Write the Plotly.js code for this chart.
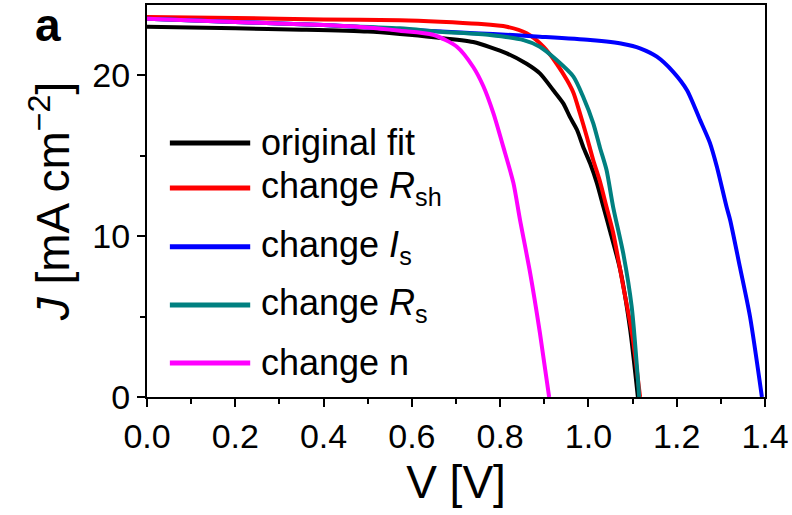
<!DOCTYPE html>
<html>
<head>
<meta charset="utf-8">
<script src="https://cdn.plot.ly/plotly-3.0.1.min.js"></script>
<style>html,body{margin:0;padding:0;background:#fff;}#chart{width:792px;height:515px;}</style>
</head>
<body>
<div id="chart"></div>
<script>
// ---- data ----
var seriesNames = ["original fit", "change <i>R</i><sub>sh</sub>", "change <i>I</i><sub>s</sub>", "change <i>R</i><sub>s</sub>", "change n"];
var seriesColors = ["#000000", "#ff0000", "#0000ff", "#008080", "#ff00ff"];

var vOriginal = [0, 0.2, 0.35, 0.5, 0.573, 0.65, 0.739, 0.815, 0.860, 0.890, 0.920, 0.943, 0.958, 0.974, 0.988, 1.004, 1.019, 1.034, 1.049, 1.072, 1.094, 1.112];
var jOriginal = [23.0, 22.9, 22.82, 22.7, 22.55, 22.35, 22.05, 21.35, 20.7, 20.1, 19.07, 18.24, 17.4, 16.6, 15.55, 14.5, 13.3, 11.8, 10.3, 7.9, 4.3, 0];

var vRsh = [0, 0.2, 0.4, 0.573, 0.664, 0.75, 0.815, 0.860, 0.898, 0.928, 0.951, 0.966, 0.981, 0.996, 1.011, 1.026, 1.041, 1.056, 1.078, 1.099, 1.117];
var jRsh = [23.6, 23.55, 23.45, 23.4, 23.31, 23.18, 23.0, 22.59, 21.76, 20.7, 19.7, 18.9, 17.6, 16.2, 14.7, 13.4, 11.8, 10.2, 7.0, 3.9, 0];

var vIs = [0, 0.2, 0.4, 0.573, 0.7, 0.784, 0.890, 1.004, 1.079, 1.117, 1.155, 1.192, 1.223, 1.253, 1.275, 1.291, 1.313, 1.321, 1.343, 1.366, 1.393];
var jIs = [23.5, 23.3, 23.1, 22.85, 22.65, 22.55, 22.38, 22.17, 21.93, 21.66, 21.14, 20.2, 19.07, 17.2, 15.8, 14.3, 11.8, 11.0, 8.1, 5.0, 0];

var vRs = [0, 0.2, 0.4, 0.573, 0.664, 0.777, 0.853, 0.890, 0.928, 0.966, 0.988, 1.011, 1.026, 1.041, 1.056, 1.079, 1.098, 1.115];
var jRs = [23.5, 23.3, 23.1, 22.9, 22.69, 22.48, 22.17, 21.76, 20.93, 19.9, 18.65, 17.0, 15.5, 14.1, 11.8, 8.9, 5.6, 0];

var vN = [0, 0.2, 0.4, 0.5, 0.573, 0.648, 0.702, 0.739, 0.762, 0.785, 0.807, 0.830, 0.845, 0.868, 0.890, 0.911];
var jN = [23.5, 23.3, 23.1, 22.95, 22.75, 22.5, 21.76, 20.5, 19.3, 17.6, 15.55, 13.3, 11.0, 7.7, 4.0, 0];

var xTickVals = [0, 0.2, 0.4, 0.6, 0.8, 1.0, 1.2, 1.4];
var xTickText = ["0.0", "0.2", "0.4", "0.6", "0.8", "1.0", "1.2", "1.4"];
var yTickVals = [0, 10, 20];
var yTickText = ["0", "10", "20"];

var vSeries = [vOriginal, vRsh, vIs, vRs, vN];
var jSeries = [jOriginal, jRsh, jIs, jRs, jN];

// ---- figure ----
var FONT = "Liberation Sans, Arial, sans-serif";
var traces = vSeries.map(function (v, i) {
  return {
    x: v, y: jSeries[i], type: "scatter", mode: "lines",
    name: seriesNames[i],
    line: {color: seriesColors[i], width: 4, shape: "spline", smoothing: 0.7},
    showlegend: false
  };
});

// hand-placed legend (long sample lines, uneven row gaps as in the reference)
var legendRowsY = [0.648, 0.533, 0.383, 0.235, 0.087];
var shapes = [];
var annotations = [];
legendRowsY.forEach(function (yy, i) {
  shapes.push({type: "line", xref: "paper", yref: "paper", x0: 0.037, x1: 0.167, y0: yy, y1: yy,
    line: {color: seriesColors[i], width: 5}});
  annotations.push({xref: "paper", yref: "paper", x: 0.181, y: yy, xanchor: "left", yanchor: "middle",
    text: seriesNames[i], showarrow: false, font: {family: FONT, size: 36, color: "#000"}});
});
annotations.push({xref: "paper", yref: "paper", x: -0.16, y: 0.95, xanchor: "center", yanchor: "middle",
  text: "<b>a</b>", showarrow: false, font: {family: FONT, size: 46, color: "#000"}});

var layout = {
  width: 792, height: 515,
  margin: {l: 147, r: 27, t: 5, b: 118},
  paper_bgcolor: "#fff", plot_bgcolor: "#fff",
  font: {family: FONT, color: "#000"},
  xaxis: {
    range: [0, 1.4], tickvals: xTickVals, ticktext: xTickText,
    ticks: "outside", ticklen: 8, tickwidth: 2, tickcolor: "#000",
    minor: {dtick: 0.1, tick0: 0, ticks: "outside", ticklen: 5, tickwidth: 2, tickcolor: "#000", showgrid: false},
    showline: true, linewidth: 2, linecolor: "#000", mirror: true,
    showgrid: false, zeroline: false,
    tickfont: {family: FONT, size: 34, color: "#000"},
    title: {text: "V [V]", font: {family: FONT, size: 46, color: "#000"}, standoff: 12}
  },
  yaxis: {
    range: [0, 24.35], tickvals: yTickVals, ticktext: yTickText,
    ticks: "outside", ticklen: 8, tickwidth: 2, tickcolor: "#000",
    minor: {dtick: 5, tick0: 0, ticks: "outside", ticklen: 5, tickwidth: 2, tickcolor: "#000", showgrid: false},
    showline: true, linewidth: 2, linecolor: "#000", mirror: true,
    showgrid: false, zeroline: false,
    tickfont: {family: FONT, size: 34, color: "#000"},
    title: {text: "<i>J</i> [mA cm<sup>\u22122</sup>]", font: {family: FONT, size: 46, color: "#000"}, standoff: 8}
  },
  shapes: shapes,
  annotations: annotations
};

Plotly.newPlot("chart", traces, layout, {displayModeBar: false, staticPlot: true});
</script>
</body>
</html>
